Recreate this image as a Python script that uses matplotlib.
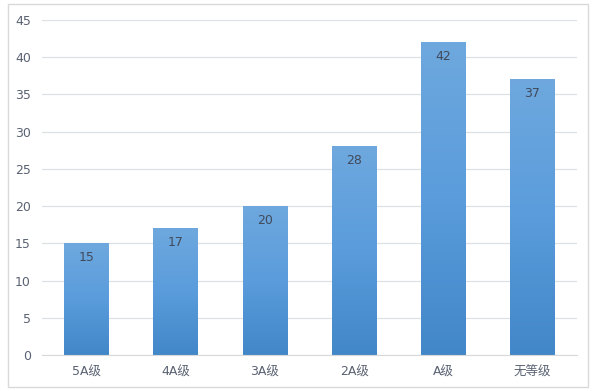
import numpy as np
import matplotlib.pyplot as plt
from matplotlib.colors import LinearSegmentedColormap
from matplotlib.patches import Rectangle

plt.rcParams['font.family'] = ['DejaVu Sans', 'Noto Sans CJK SC']

categories = ["5A级", "4A级", "3A级", "2A级", "A级", "无等级"]
values = [15, 17, 20, 28, 42, 37]
yticks = [0, 5, 10, 15, 20, 25, 30, 35, 40, 45]

bar_width = 0.5
grad = LinearSegmentedColormap.from_list("bar", ["#4287c8", "#5a9cdc", "#6ea8de"])


def main():
    fig = plt.figure(figsize=(5.96, 3.91), dpi=100)
    fig.patches.append(Rectangle((8 / 596, 4 / 391), 580 / 596, 383 / 391,
                                 transform=fig.transFigure, fill=False,
                                 edgecolor="#d9d9d9", linewidth=1))
    ax = fig.add_axes([42 / 596, (391 - 355) / 391, 535 / 596, 335 / 391])

    x = np.arange(len(categories))
    g = np.linspace(0, 1, 256).reshape(-1, 1)
    for xi, v in zip(x, values):
        ax.imshow(g, cmap=grad, origin="lower", aspect="auto",
                  extent=(xi - bar_width / 2, xi + bar_width / 2, 0, v), zorder=2)
        ax.text(xi, v - 1.9, str(v), ha="center", va="center",
                fontsize=9, color="#404a5c", zorder=3)

    ax.set_xlim(-0.5, len(categories) - 0.5)
    ax.set_ylim(0, 45)
    ax.set_xticks(x)
    ax.set_xticklabels(categories)
    ax.set_yticks(yticks)
    ax.grid(axis="y", color="#dde1e6", linewidth=0.9, zorder=0)
    ax.set_axisbelow(True)
    for s in ["top", "right", "left"]:
        ax.spines[s].set_visible(False)
    ax.spines["bottom"].set_color("#d9d9d9")
    ax.tick_params(length=0, labelsize=9, colors="#5a6272", pad=8)
    ax.tick_params(axis="y", pad=8)

    fig.savefig("out.png", dpi=100)


if __name__ == "__main__":
    main()
